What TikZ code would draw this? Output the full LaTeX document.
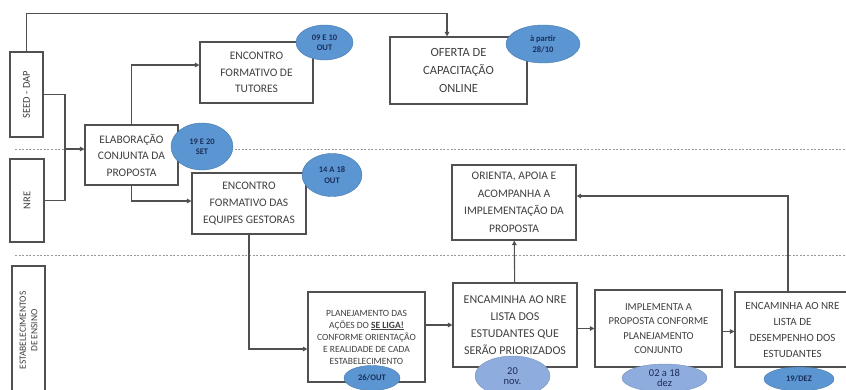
\documentclass[tikz,border=0pt]{standalone}
\usepackage{fontspec}
\setmainfont{Carlito}
\usetikzlibrary{shapes.geometric,positioning,calc,arrows.meta}

\definecolor{linegray}{RGB}{80,80,80}
\definecolor{txtgray}{RGB}{64,64,64}
\definecolor{datablue}{RGB}{91,150,210}
\definecolor{datalight}{RGB}{143,172,222}
\definecolor{datatxt}{RGB}{28,45,90}

\tikzset{
    etapa/.style={draw=linegray, line width=1.1pt, fill=white, align=center, text=txtgray, inner sep=0pt},
    raia/.style={etapa, rotate=90},
    data/.style={ellipse, fill=datablue, draw=datablue!80!black, line width=0.4pt, inner sep=0pt, align=center, text=datatxt, font=\fontsize{8.5}{10.5}\selectfont\bfseries},
    datab/.style={data, fill=datalight, draw=datalight!85!black, font=\fontsize{10.5}{10.5}\selectfont},
    fluxo/.style={draw=linegray, line width=1.1pt, -{Triangle[length=4.5pt,width=4.5pt]}},
    linha/.style={draw=linegray, line width=1.1pt},
    divisa/.style={draw=gray!80, line width=0.9pt, dash pattern=on 2pt off 1.6pt}
}

\begin{document}
\begin{tikzpicture}[x=1pt,y=-1pt]
    \useasboundingbox (0,0) rectangle (846,390);
    \clip (0,0) rectangle (846,390);

    % Lane dividers
    \foreach \yy in {149,255}
        \draw [divisa] (15,\yy) -- (846,\yy);

    % Lanes (rotated: east = top, south = right side)
    \node [raia, minimum width=85, minimum height=33, font=\fontsize{10.5}{12}\selectfont] (seed) at (26.5,94.5) {SEED - DAP};
    \node [raia, minimum width=83, minimum height=34, font=\fontsize{10.5}{12}\selectfont] (nre) at (27,200.5) {NRE};
    \node [raia, minimum width=129, minimum height=33, font=\fontsize{9.5}{11.5}\selectfont] (estab) at (28.5,330.5) {ESTABELECIMENTOS\\DE ENSINO};

    % SEED - DAP / NRE steps
    \node [etapa, minimum width=93, minimum height=60, font=\fontsize{11.5}{16.5}\selectfont] (elab) at (131.5,155) {ELABORAÇÃO\\CONJUNTA DA\\PROPOSTA};
    \node [etapa, minimum width=113, minimum height=61, font=\fontsize{11.5}{16.5}\selectfont] (tutores) at (256.5,72.5) {ENCONTRO\\FORMATIVO DE\\TUTORES};
    \node [etapa, minimum width=137, minimum height=67, font=\fontsize{12.5}{18}\selectfont] (oferta) at (458.5,70.5) {OFERTA DE\\CAPACITAÇÃO\\ONLINE};
    \node [etapa, minimum width=114, minimum height=61, font=\fontsize{11.5}{17}\selectfont] (equipes) at (249,203.5) {ENCONTRO\\FORMATIVO DAS\\EQUIPES GESTORAS};
    \node [etapa, minimum width=124, minimum height=75, font=\fontsize{11.5}{17.5}\selectfont] (orienta) at (514,202.5) {ORIENTA, APOIA E\\ACOMPANHA A\\IMPLEMENTAÇÃO DA\\PROPOSTA};

    % School steps
    \node [etapa, minimum width=117, minimum height=90, font=\fontsize{9.5}{12}\selectfont] (planej) at (366.5,337) {PLANEJAMENTO DAS\\AÇÕES DO \underline{\textbf{SE LIGA!}}\\CONFORME ORIENTAÇÃO\\E REALIDADE DE CADA\\ESTABELECIMENTO};
    \node [etapa, minimum width=124, minimum height=84, font=\fontsize{12}{17}\selectfont] (enc1) at (515,325) {ENCAMINHA AO NRE\\LISTA DOS\\ESTUDANTES QUE\\SERÃO PRIORIZADOS};
    \node [etapa, minimum width=127, minimum height=77, font=\fontsize{10.6}{14.5}\selectfont] (impl) at (658.5,328.5) {IMPLEMENTA A\\PROPOSTA CONFORME\\PLANEJAMENTO\\CONJUNTO};
    \node [etapa, minimum width=115, minimum height=75, font=\fontsize{11}{16}\selectfont] (enc2) at (792.5,329.5) {ENCAMINHA AO NRE\\LISTA DE\\DESEMPENHO DOS\\ESTUDANTES};

    % Connectors
    \coordinate (jn) at (65,149);
    \draw [linha] (seed.south) -| (jn);
    \draw [linha] (nre.south) -| (jn);
    \draw [fluxo] (jn) -- (jn -| elab.west);
    \draw [fluxo] (seed.east) -- ++(0,-38) -| ([xshift=-11.5]oferta.north);
    \draw [fluxo] (elab.north) |- ([yshift=7.5]tutores.west);
    \draw [fluxo] (elab.south) |- ([yshift=2.5]equipes.west);
    \draw [fluxo] (equipes.south) |- ([yshift=-12]planej.west);
    \draw [fluxo] (planej.east |- enc1.west) -- (enc1.west);
    \draw [fluxo] (enc1) -- (orienta);
    \draw [fluxo] (enc1.east |- impl.west) -- (impl.west);
    \draw [fluxo] ([yshift=-3]impl.east) -- ([yshift=-3]impl.east -| enc2.west);
    \draw [fluxo] ([xshift=-4.5]enc2.north) |- ([yshift=6.5]orienta.east);

    % Dates
    \node [data, minimum width=62, minimum height=47] (d1) at (202,146.5) {19 E 20\\SET};
    \node [data, minimum width=57, minimum height=35] (d2) at (324.5,42.5) {09 E 10\\OUT};
    \node [data, minimum width=74, minimum height=38] (d3) at (543,44) {à partir\\28/10};
    \node [data, minimum width=60, minimum height=43] (d4) at (332,175) {14 A 18\\OUT};
    \node [data, minimum width=56, minimum height=25] (d5) at (372,378) {26/OUT};
    \node [datab, minimum width=75, minimum height=40] (d6) at (512.5,376) {20\\nov.};
    \node [datab, minimum width=85, minimum height=28] (d7) at (664.5,378) {02 a 18\\dez};
    \node [data, minimum width=70, minimum height=24] (d8) at (799,379) {19/DEZ};
\end{tikzpicture}
\end{document}
